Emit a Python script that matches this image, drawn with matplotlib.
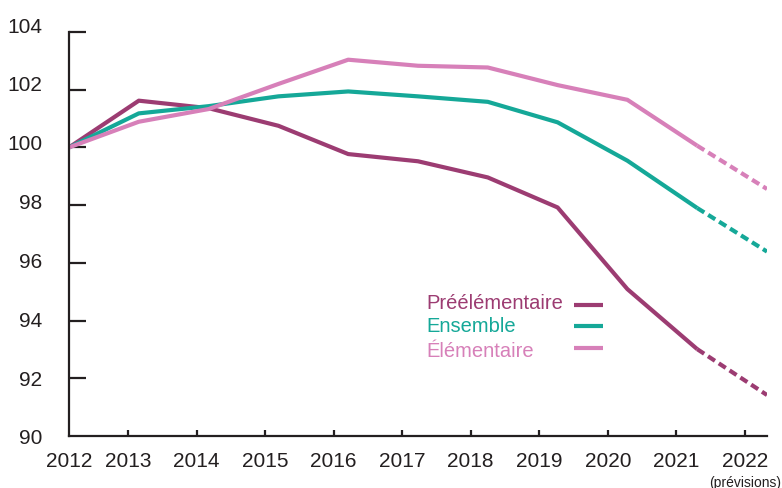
import numpy as np
import matplotlib
matplotlib.use("Agg")
import matplotlib.pyplot as plt
from matplotlib.transforms import ScaledTranslation

# indice base 100 en 2012
years = [2012, 2013, 2014, 2015, 2016, 2017, 2018, 2019, 2020, 2021, 2022]
year_labels = [str(y) for y in years]
preelem = [100, 101.62, 101.36, 100.75, 99.77, 99.52, 98.96, 97.92, 95.09, 93.01, 91.42]
ensemble = [100, 101.18, 101.43, 101.77, 101.94, 101.77, 101.58, 100.87, 99.54, 97.90, 96.39]
elem = [100, 100.89, 101.33, 102.20, 103.04, 102.83, 102.77, 102.16, 101.65, 100.06, 98.56]
yticks = [90, 92, 94, 96, 98, 100, 102, 104]

series = [("Préélémentaire", preelem, "#9c3c72"),
          ("Ensemble", ensemble, "#15a898"),
          ("Élémentaire", elem, "#d780b9")]

plt.rcParams['font.family'] = ['Liberation Sans', 'DejaVu Sans']
axis_col = "#231f20"

fig = plt.figure(figsize=(7.82, 4.89), dpi=100)
ax = fig.add_axes([69/782, 52/489, 698/782, 404/489])

x = np.arange(len(years))
n_obs = len(years) - 1   # last point is a forecast -> dashed
for name, vals, col in series:
    vals = np.array(vals)
    ax.plot(x[:n_obs], vals[:n_obs], color=col, lw=3, solid_capstyle='butt')
    ax.plot(x[n_obs-1:], vals[n_obs-1:], color=col, lw=3,
            linestyle=(0, (2.0, 1.1)), dash_capstyle='butt')

ax.set_xlim(0, len(years) - 1)
ax.set_ylim(90, 104)
ax.set_yticks(yticks)
ax.set_yticklabels([str(v) for v in yticks])

# ticks sit a bit left of the data points in the original
tick_pos = [0] + [i - 0.155 - 0.018*(i - 1) for i in range(1, len(years))]
ax.set_xticks(tick_pos)
ax.set_xticklabels(year_labels)

for s in ['top', 'right']:
    ax.spines[s].set_visible(False)
for s in ['left', 'bottom']:
    ax.spines[s].set_color(axis_col)
    ax.spines[s].set_linewidth(1.6)

ax.tick_params(axis='y', direction='in', length=12.5, width=1.6,
               color=axis_col, labelsize=15, pad=19, labelcolor=axis_col)
ax.tick_params(axis='x', direction='in', length=4.5, width=1.6,
               color=axis_col, labelsize=15, pad=11, labelcolor=axis_col)
ax.yaxis.get_major_ticks()[0].tick1line.set_visible(False)
ax.xaxis.get_major_ticks()[0].tick1line.set_visible(False)

# y labels drift slightly upward in the original
for v, lab in zip(yticks, ax.get_yticklabels()):
    lab.set_transform(lab.get_transform() +
                      ScaledTranslation(0, 0.0057*(v - 90), fig.dpi_scale_trans))

fig.text(745/782, 6/489, "(prévisions)", ha='center', va='center',
         fontsize=10, color=axis_col)

# legend: text left, line swatch right
leg_rows = [0.3168, 0.2592, 0.1973]
leg_lines = [0.3243, 0.2723, 0.2178]
for (name, vals, col), yt, yl in zip(series, leg_rows, leg_lines):
    ax.text(0.5115, yt, name, color=col, fontsize=14.5, ha='left',
            va='baseline', transform=ax.transAxes)
    ax.plot([0.7235, 0.765], [yl, yl], color=col, lw=3,
            solid_capstyle='butt', transform=ax.transAxes, clip_on=False)

fig.savefig("out.png", dpi=100)
